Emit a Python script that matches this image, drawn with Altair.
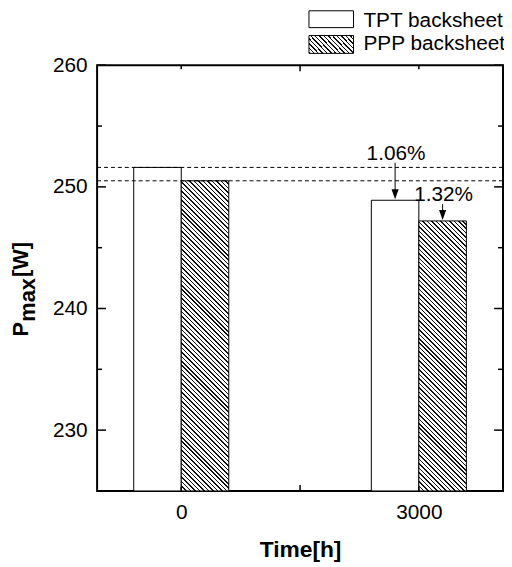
import math
import altair as alt
import pandas as pd

# ---------------- data ----------------
times = [0, 3000]
series = ["TPT backsheet", "PPP backsheet"]
tpt_values = [251.6, 248.9]
ppp_values = [250.5, 247.2]
drop_labels = ["1.06%", "1.32%"]
y_label_ticks = [230, 240, 250, 260]
y_minor_ticks = [235, 245, 255]
x_label_ticks = [0, 3000]
x_minor_ticks = [1500]

# ---------------- style ----------------
Y_MIN, Y_MAX = 225, 260
X_MIN, X_MAX = -1000, 4000
W, H = 410, 430
FONT = "Liberation Sans"
FS = 21
BAR_W = 48
PX_PER_UNIT = H / (Y_MAX - Y_MIN)


def hatch(w, h, period=3.2, frac=0.34):
    """Linear gradient that draws 45-degree '\\' stripes in a w x h box."""
    k = (w + h) / (w * w + h * h)
    n = max(1, round((w + h) / math.sqrt(2) / period))
    stops = []
    for i in range(n):
        a = i / n
        b = (i + frac) / n
        c = (i + 1) / n
        stops += [
            alt.GradientStop(color="#111", offset=a),
            alt.GradientStop(color="#111", offset=b),
            alt.GradientStop(color="white", offset=b),
            alt.GradientStop(color="white", offset=c),
        ]
    return alt.LinearGradient(gradient="linear", stops=stops,
                              x1=0, y1=1, x2=k * w, y2=1 - k * h)


df = pd.DataFrame({
    "time": times * 2,
    "series": [series[0]] * len(times) + [series[1]] * len(times),
    "value": tpt_values + ppp_values,
})

xscale = alt.Scale(domain=[X_MIN, X_MAX], nice=False, zero=False)
yscale = alt.Scale(domain=[Y_MIN, Y_MAX], nice=False, zero=False)

x_axis = alt.Axis(values=x_label_ticks, format="d", ticks=False, domain=False,
                  grid=False, labelFont=FONT, labelFontSize=FS, labelColor="black",
                  labelPadding=11, title="Time[h]", titleFont=FONT,
                  titleFontSize=23, titleFontWeight="bold", titleColor="black",
                  titlePadding=16)
y_axis = alt.Axis(values=y_label_ticks, format="d", ticks=False, domain=False,
                  grid=False, labelFont=FONT, labelFontSize=FS, labelColor="black",
                  labelPadding=10, title=None)


def X(field):
    return alt.X(field, scale=xscale, axis=x_axis)


def Y(field):
    return alt.Y(field, scale=yscale, axis=y_axis)


layers = []

# TPT bars (white)
layers.append(
    alt.Chart(df).transform_filter(alt.datum.series == series[0])
    .mark_bar(width=BAR_W, xOffset=-BAR_W / 2, fill="white", stroke="black",
              strokeWidth=1)
    .encode(x=X("time:Q"), y=Y("value:Q"), y2=alt.datum(Y_MIN))
)

# PPP bars (hatched), one layer each so every hatch stays at 45 degrees
for t, v in zip(times, ppp_values):
    layers.append(
        alt.Chart(df).transform_filter(
            (alt.datum.series == series[1]) & (alt.datum.time == t))
        .mark_bar(width=BAR_W, xOffset=BAR_W / 2,
                  fill=hatch(BAR_W, (v - Y_MIN) * PX_PER_UNIT),
                  stroke="black", strokeWidth=1)
        .encode(x=X("time:Q"), y=Y("value:Q"), y2=alt.datum(Y_MIN))
    )

# dashed reference lines at the 0 h values
ref_df = pd.DataFrame({"value": [tpt_values[0], ppp_values[0]]})
layers.append(
    alt.Chart(ref_df).mark_rule(color="black", strokeWidth=1, strokeDash=[4, 3])
    .encode(y=Y("value:Q"))
)

# annotations: arrows + percentage labels at 3000 h
ann_vals = [tpt_values[1], ppp_values[1]]
ann_offsets = [-BAR_W / 2, BAR_W / 2]
arrow_len = [38, 17]
for lab, v, xo, L in zip(drop_labels, ann_vals, ann_offsets, arrow_len):
    adf = pd.DataFrame({"time": [times[1]], "value": [v], "label": [lab]})
    layers.append(
        alt.Chart(adf).mark_rule(color="black", strokeWidth=1, xOffset=xo,
                                 yOffset=-6, y2Offset=-L)
        .encode(x=X("time:Q"), y=Y("value:Q"), y2="value:Q")
    )
    layers.append(
        alt.Chart(adf).mark_point(shape="M-0.36,-1L0.36,-1L0,0Z", size=400,
                                  filled=True, color="black", opacity=1,
                                  xOffset=xo, yOffset=-1)
        .encode(x=X("time:Q"), y=Y("value:Q"))
    )
    layers.append(
        alt.Chart(adf).mark_text(font=FONT, fontSize=FS, color="black",
                                 baseline="alphabetic", align="center",
                                 dx=xo + 1, dy=-(L + 3))
        .encode(x=X("time:Q"), y=Y("value:Q"), text="label:N")
    )


# inward ticks on all four sides
def tick_rules(vals, channel, length, side):
    if channel == "y":
        tdf = pd.DataFrame({"value": vals})
        enc = dict(y=Y("value:Q"))
        if side == "left":
            enc.update(x=alt.value(0), x2=alt.value(length))
        else:
            enc.update(x=alt.value(W), x2=alt.value(W - length))
    else:
        tdf = pd.DataFrame({"time": vals})
        enc = dict(x=X("time:Q"))
        if side == "bottom":
            enc.update(y=alt.value(H), y2=alt.value(H - length))
        else:
            enc.update(y=alt.value(0), y2=alt.value(length))
    return alt.Chart(tdf).mark_rule(color="black", strokeWidth=1.5).encode(**enc)


for side in ["left", "right"]:
    layers.append(tick_rules(y_label_ticks, "y", 9, side))
    layers.append(tick_rules(y_minor_ticks, "y", 5, side))
for side in ["top", "bottom"]:
    layers.append(tick_rules(x_label_ticks, "x", 4, side))
    layers.append(tick_rules(x_minor_ticks, "x", 6, side))

# y title: P_max[W] (rotated, with subscript)
title_parts = [("P", 22, -70, 274), ("max", 22, -63, 259), ("[W]", 22, -70, 214)]
for txt, fs, tx, ty in title_parts:
    layers.append(
        alt.Chart(pd.DataFrame({"t": [txt]}))
        .mark_text(font=FONT, fontSize=fs, fontWeight="bold", color="black",
                   angle=270, align="left", baseline="alphabetic")
        .encode(text="t:N", x=alt.value(tx), y=alt.value(ty))
    )

# legend (top right, above the frame)
legend_fills = ["white", hatch(45, 17)]
legend_box_y = [(-55, -38), (-30, -12)]
legend_text_y = [-39, -15]
for name, fill, (y0, y1), ty in zip(series, legend_fills, legend_box_y, legend_text_y):
    ldf = pd.DataFrame({"name": [name]})
    layers.append(
        alt.Chart(ldf).mark_rect(fill=fill, stroke="black", strokeWidth=1)
        .encode(x=alt.value(214), x2=alt.value(259), y=alt.value(y0), y2=alt.value(y1))
    )
    layers.append(
        alt.Chart(ldf).mark_text(font=FONT, fontSize=FS, color="black",
                                 align="left", baseline="alphabetic")
        .encode(text="name:N", x=alt.value(269), y=alt.value(ty))
    )

chart = (
    alt.layer(*layers)
    .properties(width=W, height=H, autosize="none",
                padding={"left": 90, "top": 55, "right": 1, "bottom": 74})
    .configure_view(stroke="black", strokeWidth=2)
)

chart.save("out.html", embed_options={"renderer": "svg", "actions": False})
